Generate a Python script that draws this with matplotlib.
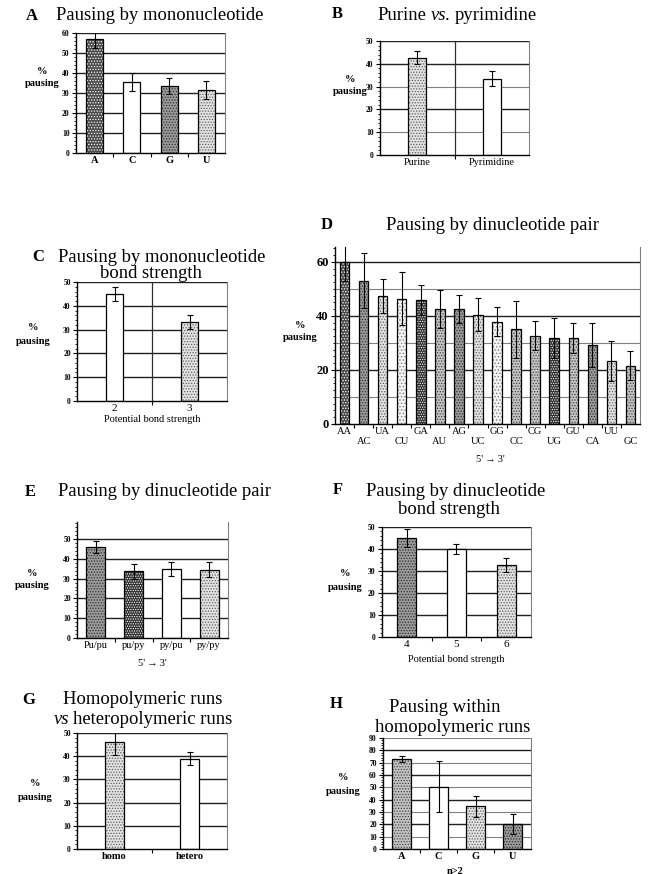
import matplotlib
matplotlib.use("Agg")
import matplotlib.pyplot as plt
from matplotlib.ticker import MultipleLocator, FixedLocator
import numpy as np

plt.rcParams['font.family'] = ['Liberation Serif', 'DejaVu Serif']
plt.rcParams['hatch.linewidth'] = 0.6

W, H = 652, 874

# ---------------- data ----------------
A_cats = ['A', 'C', 'G', 'U']
A_vals = [57, 35.5, 33.5, 31.5]
A_err = [4.5, 4.5, 4.0, 4.5]

B_cats = ['Purine', 'Pyrimidine']
B_vals = [42.7, 33.5]
B_err = [3.0, 3.3]

C_cats = ['2', '3']
C_vals = [44.8, 33.2]
C_err = [2.9, 3.1]

D_cats = ['AA', 'AC', 'UA', 'CU', 'GA', 'AU', 'AG', 'UC',
          'GG', 'CC', 'CG', 'UG', 'GU', 'CA', 'UU', 'GC']
D_vals = [59.8, 53.1, 47.4, 46.4, 45.8, 42.5, 42.5, 40.5,
          37.8, 35.1, 32.6, 31.9, 31.7, 29.2, 23.4, 21.6]
D_err = [7.0, 10.0, 6.3, 9.7, 5.6, 7.0, 5.3, 6.2,
         5.4, 10.5, 5.4, 7.5, 5.5, 8.1, 7.4, 5.3]

E_cats = ['Pu/pu', 'pu/py', 'py/pu', 'py/py']
E_vals = [46.0, 33.8, 34.8, 34.6]
E_err = [3.2, 3.8, 3.6, 3.8]

F_cats = ['4', '5', '6']
F_vals = [45.0, 40.0, 32.7]
F_err = [4.0, 2.4, 3.2]

G_cats = ['homo', 'hetero']
G_vals = [46.1, 39.0]
G_err = [5.6, 2.7]

H_cats = ['A', 'C', 'G', 'U']
H_vals = [73.0, 50.3, 34.6, 20.3]
H_err = [2.6, 20.7, 8.5, 8.0]

# fill styles (halftone approximations): facecolor, hatch, dot colour
STY = {
    'vdark': ('#2e2e2e', '.......', 'white'),
    'dark': ('#4a4a4a', '......', 'white'),
    'meddark': ('#9a9a9a', '......', '#303030'),
    'med': ('#c4c4c4', '......', '#404040'),
    'light': ('#e2e2e2', '......', '#606060'),
    'vlight': ('#f3f3f3', '.....', '#808080'),
    'white': ('white', None, 'black'),
}

fig = plt.figure(figsize=(W / 100, H / 100), dpi=100)
renderer = fig.canvas.get_renderer()


def fx(x):
    return x / W


def fy(y):
    return 1 - y / H


def ftext(x, y, s, **kw):
    kw.setdefault('ha', 'center')
    kw.setdefault('va', 'center')
    return fig.text(fx(x), fy(y), s, **kw)


def rich(xc, y, parts, fontsize=13, gap=4.0):
    """Centre a line made of several differently styled pieces at xc."""
    ts = [fig.text(0, fy(y), s, fontsize=fontsize, style=st, ha='left',
                   va='center') for s, st in parts]
    ws = [t.get_window_extent(renderer).width for t in ts]
    total = sum(ws) + gap * (len(ts) - 1)
    x = xc - total / 2
    for t, w in zip(ts, ws):
        t.set_x(fx(x))
        x += w + gap


def panel(rect, cats, vals, errs, styles, ylim, major, minor, width,
          grid_dark, grid_light=(), tick_fs=5.5, xlab_fs=7.5, xlab_bold=False,
          vgrid=False, xlabels=True):
    x0, y0, w, h = rect
    ax = fig.add_axes([fx(x0), fy(y0 + h), w / W, h / H])
    n = len(cats)
    x = np.arange(n)
    ax.set_xlim(-0.5, n - 0.5)
    ax.set_ylim(*ylim)
    for t in grid_dark:
        ax.axhline(t, color='#202020', lw=1.0, zorder=0)
    for t in grid_light:
        ax.axhline(t, color='#808080', lw=0.8, zorder=0)
    if vgrid:
        for b in np.arange(0.5, n - 0.5, 1):
            ax.axvline(b, color='#303030', lw=0.9, zorder=0)
    for xi, v, st in zip(x, vals, styles):
        fc, hat, hc = STY[st]
        ax.bar(xi, v, width, color=fc, edgecolor=hc, hatch=hat,
               lw=0, zorder=2)
        ax.bar(xi, v, width, fill=False, edgecolor='black', lw=0.9,
               zorder=2.5)
    ax.errorbar(x, vals, yerr=errs, fmt='none', ecolor='black',
                elinewidth=0.8, capsize=2.3, capthick=0.8, zorder=3)
    ax.spines['top'].set_visible(False)
    ax.spines['right'].set_color('#808080')
    ax.spines['right'].set_linewidth(0.8)
    ax.spines['left'].set_linewidth(1.0)
    ax.spines['bottom'].set_linewidth(1.0)
    ax.yaxis.set_major_locator(MultipleLocator(major))
    ax.yaxis.set_minor_locator(MultipleLocator(minor))
    ax.tick_params(axis='y', which='major', labelsize=tick_fs, length=3,
                   width=0.8, pad=1.5)
    ax.tick_params(axis='y', which='minor', length=1.8, width=0.6)
    for lab in ax.get_yticklabels():
        lab.set_fontweight('bold')
    ax.xaxis.set_major_locator(FixedLocator(x))
    ax.xaxis.set_minor_locator(FixedLocator(np.arange(0.5, n - 0.5, 1)))
    if xlabels:
        ax.set_xticklabels(cats, fontsize=xlab_fs,
                           fontweight='bold' if xlab_bold else 'normal')
    else:
        ax.set_xticklabels([])
    ax.tick_params(axis='x', which='major', length=0, pad=2)
    ax.tick_params(axis='x', which='minor', length=3, width=0.8)
    return ax


def ylabel(x, y, fs=7.5):
    ftext(x, y - 7, '%', fontsize=fs, fontweight='bold')
    ftext(x, y + 6, 'pausing', fontsize=fs, fontweight='bold')


# ---------------- Panel A ----------------
panel((76, 33, 149, 120), A_cats, A_vals, A_err,
      ['dark', 'white', 'meddark', 'light'], (0, 60), 10, 2, 0.46,
      grid_dark=[10, 20, 30, 40, 50, 60], xlab_bold=True, xlab_fs=7.5)
ftext(32, 16, 'A', fontsize=12, fontweight='bold')
ftext(160, 15, 'Pausing by mononucleotide', fontsize=13.4)
ylabel(42, 78)

# ---------------- Panel B ----------------
panel((380, 41, 149, 114), B_cats, B_vals, B_err,
      ['light', 'white'], (0, 50), 10, 2, 0.24,
      grid_dark=[20, 40, 50], grid_light=[10, 30], vgrid=True, xlab_fs=7.5)
ftext(337, 14, 'B', fontsize=12, fontweight='bold')
rich(457, 16, [('Purine', 'normal'), ('vs.', 'italic'),
               ('pyrimidine', 'normal')], fontsize=13.4)
ylabel(350, 86)

# ---------------- Panel C ----------------
panel((77, 282, 150, 119), C_cats, C_vals, C_err,
      ['white', 'light'], (0, 50), 10, 2, 0.22,
      grid_dark=[10, 20, 30, 40, 50], vgrid=True, xlab_fs=8)
ftext(38, 257, 'C', fontsize=12, fontweight='bold')
ftext(162, 257, 'Pausing by mononucleotide', fontsize=13.4)
ftext(151, 273, 'bond strength', fontsize=13.4)
ylabel(33, 335)
ftext(152, 420, 'Potential bond strength', fontsize=7.5)

# ---------------- Panel D ----------------
axD = panel((335, 247, 305, 177), D_cats, D_vals, D_err,
            ['dark', 'meddark', 'light', 'vlight', 'vdark', 'med', 'meddark',
             'light', 'vlight', 'med', 'med', 'vdark', 'med', 'meddark',
             'light', 'med'],
            (0, 65.5), 20, 2.5, 0.5,
            grid_dark=[20, 40, 60], grid_light=[10, 30, 50], tick_fs=9,
            xlabels=False)
for i, c in enumerate(D_cats):
    yoff = -0.045 if i % 2 == 0 else -0.10
    axD.text(i, yoff, c, transform=axD.get_xaxis_transform(), ha='center',
             va='center', fontsize=7.5)
ftext(327, 225, 'D', fontsize=12, fontweight='bold')
ftext(493, 225, 'Pausing by dinucleotide pair', fontsize=13.4)
ylabel(300, 332)
ftext(490, 460, "5'\u2009\u2192\u20093'", fontsize=7.5)

# ---------------- Panel E ----------------
panel((77, 522, 151, 116), E_cats, E_vals, E_err,
      ['meddark', 'vdark', 'white', 'light'], (0, 58.6), 10, 2, 0.5,
      grid_dark=[10, 20, 30, 40, 50], xlab_fs=7.5)
ftext(30, 492, 'E', fontsize=12, fontweight='bold')
ftext(165, 492, 'Pausing by dinucleotide pair', fontsize=13.4)
ylabel(32, 580)
ftext(152, 663, "5'\u2009\u2192\u20093'", fontsize=7.5)

# ---------------- Panel F ----------------
panel((382, 527, 149, 110), F_cats, F_vals, F_err,
      ['meddark', 'white', 'light'], (0, 50), 10, 2, 0.38,
      grid_dark=[10, 20, 30, 40, 50], xlab_fs=8)
ftext(338, 490, 'F', fontsize=12, fontweight='bold')
ftext(456, 492, 'Pausing by dinucleotide', fontsize=13.4)
ftext(449, 510, 'bond strength', fontsize=13.4)
ylabel(345, 581)
ftext(456, 660, 'Potential bond strength', fontsize=7.5)

# ---------------- Panel G ----------------
panel((77, 733, 150, 116), G_cats, G_vals, G_err,
      ['light', 'white'], (0, 50), 10, 2, 0.25,
      grid_dark=[10, 20, 30, 40, 50], xlab_bold=True, xlab_fs=7.5)
ftext(29, 700, 'G', fontsize=12, fontweight='bold')
ftext(143, 700, 'Homopolymeric runs', fontsize=13.4)
rich(143, 720, [('vs', 'italic'), ('heteropolymeric runs', 'normal')],
     fontsize=13.4)
ylabel(35, 791)

# ---------------- Panel H ----------------
panel((383, 738, 148, 111), H_cats, H_vals, H_err,
      ['med', 'white', 'light', 'meddark'], (0, 90), 10, 2, 0.51,
      grid_dark=[20, 40, 60, 80], grid_light=[10, 30, 50, 70, 90],
      xlab_bold=True, xlab_fs=7.5)
ftext(336, 704, 'H', fontsize=12, fontweight='bold')
ftext(445, 708, 'Pausing within', fontsize=13.4)
ftext(453, 727, 'homopolymeric runs', fontsize=13.4)
ylabel(343, 785)
ftext(455, 871, 'n>2', fontsize=7.5, fontweight='bold')

fig.savefig('out.png', dpi=100)
